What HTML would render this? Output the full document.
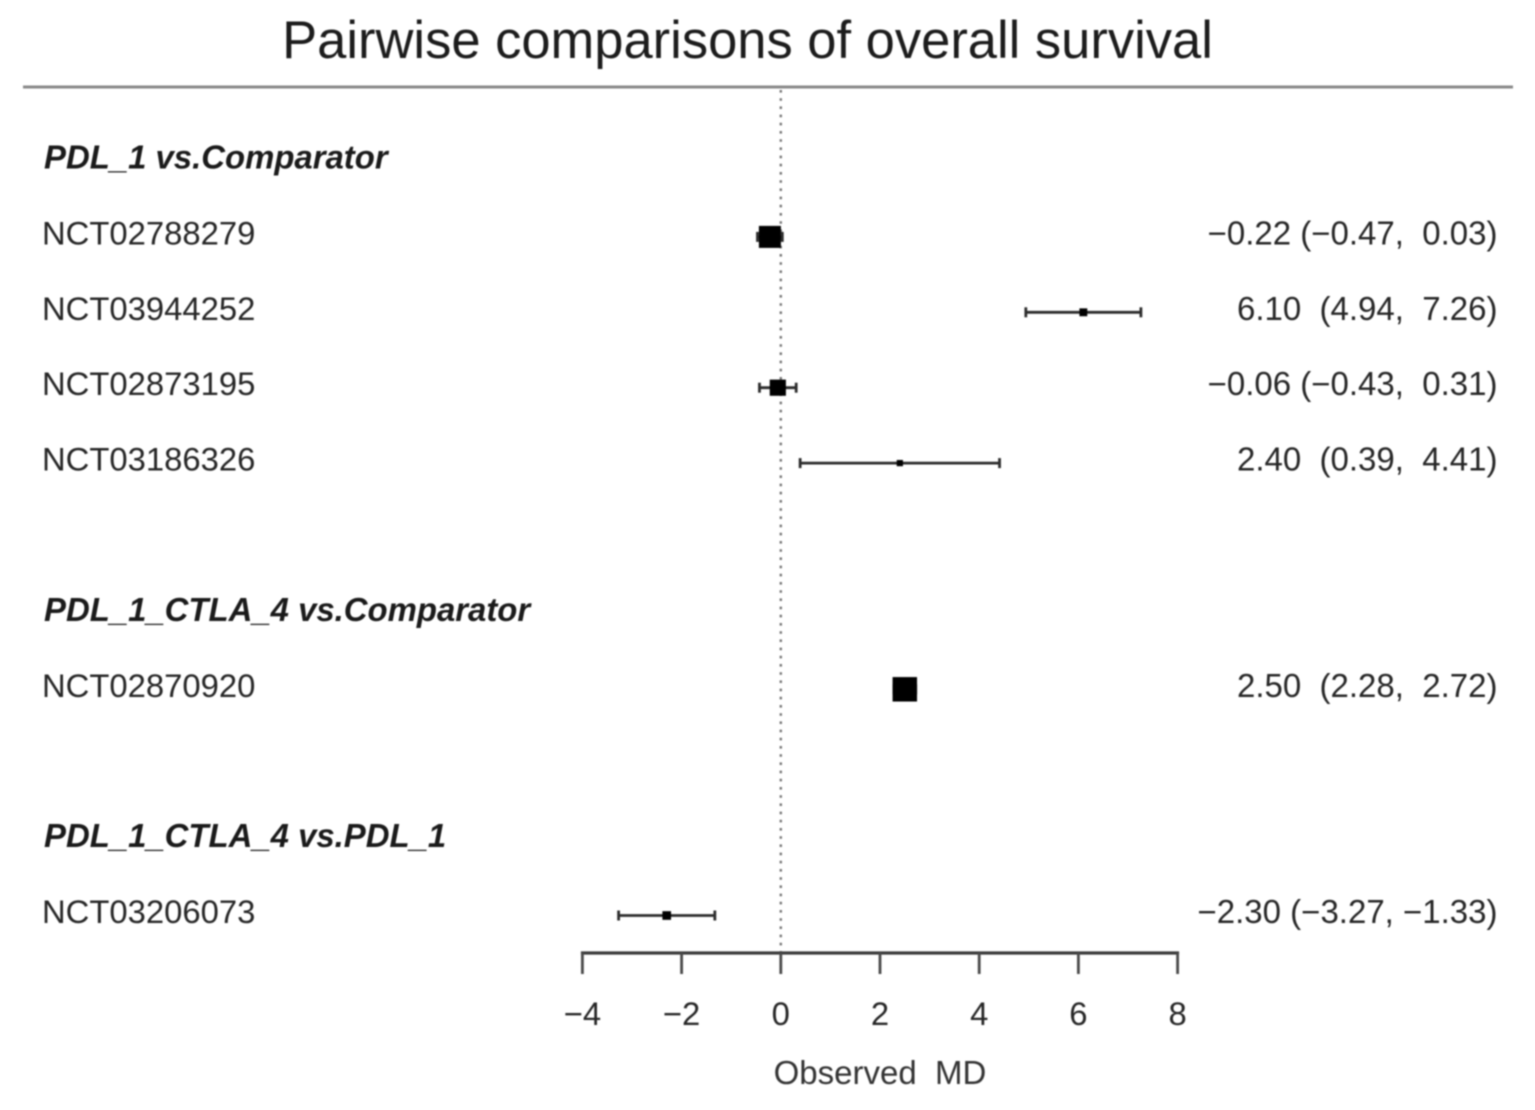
<!DOCTYPE html>
<html>
<head>
<meta charset="utf-8">
<title>Pairwise comparisons of overall survival</title>
<style>
html,body{margin:0;padding:0;background:#fff;width:1535px;height:1110px;overflow:hidden}
svg{display:block;filter:blur(0.8px)}
text{font-family:"Liberation Sans",sans-serif;white-space:pre;fill:#262626}
</style>
</head>
<body>
<svg id="chart" xmlns="http://www.w3.org/2000/svg" width="1535" height="1110" viewBox="0 0 1535 1110">
<rect width="1535" height="1110" fill="#fff"/>
<text x="747.5" y="58" font-size="52.5" text-anchor="middle" style="fill:#1c1c1c">Pairwise comparisons of overall survival</text>
<line x1="23" y1="87" x2="1513" y2="87" stroke="#8a8a8a" stroke-width="3"/>
<text x="880" y="1084" font-size="33" text-anchor="middle" style="fill:#333">Observed  MD</text>
</svg>
<script>
const groupLabels = ["PDL_1 vs.Comparator", "PDL_1_CTLA_4 vs.Comparator", "PDL_1_CTLA_4 vs.PDL_1"];
const groupRows = [0, 6, 9];
const studies = ["NCT02788279", "NCT03944252", "NCT02873195", "NCT03186326", "NCT02870920", "NCT03206073"];
const studyRows = [1, 2, 3, 4, 7, 10];
const means = [-0.22, 6.10, -0.06, 2.40, 2.50, -2.30];
const lowers = [-0.47, 4.94, -0.43, 0.39, 2.28, -3.27];
const uppers = [0.03, 7.26, 0.31, 4.41, 2.72, -1.33];
const xTicks = [-4, -2, 0, 2, 4, 6, 8];

const svg = document.getElementById('chart');
const NS = 'http://www.w3.org/2000/svg';
const xScale = v => 780.8 + v * 49.6;
const yScale = r => 161.5 + r * 75.4;
const sizeOf = (lo, hi) => 4 + 9 / (hi - lo);
const fmt = v => (v < 0 ? '\u2212' : '') + Math.abs(v).toFixed(2);
const tickFmt = v => (v < 0 ? '\u2212' : '') + Math.abs(v);

function make(tag, attrs, content) {
  const el = document.createElementNS(NS, tag);
  for (const k in attrs) el.setAttribute(k, attrs[k]);
  if (content !== undefined) el.textContent = content;
  svg.appendChild(el);
  return el;
}

const refLine = make('line', {x1: xScale(0), y1: 90, x2: xScale(0), y2: 952, stroke: '#777', 'stroke-width': 2.4, 'stroke-dasharray': '2.6 5.6'});



groupLabels.forEach((label, i) => {
  const t = make('text', {x: 44, y: yScale(groupRows[i]) + 7, 'font-size': 32.9, 'font-weight': 'bold', 'font-style': 'italic'}, label);
  
  
  t.style.fill = '#1a1a1a';
});

studies.forEach((name, i) => {
  const y = yScale(studyRows[i]);
  const x0 = xScale(lowers[i]);
  const x1 = xScale(uppers[i]);
  const xm = xScale(means[i]);
  const s = sizeOf(lowers[i], uppers[i]);

  const label = make('text', {x: 42, y: y + 7.5, 'font-size': 32.8}, name);
  
  

  const ci = make('line', {x1: x0, y1: y, x2: x1, y2: y, stroke: '#2c2c2c', 'stroke-width': 2.8});
  
  

  const capL = make('line', {x1: x0, y1: y - 5, x2: x0, y2: y + 5, stroke: '#2c2c2c', 'stroke-width': 2.8});
  
  

  const capR = make('line', {x1: x1, y1: y - 5, x2: x1, y2: y + 5, stroke: '#2c2c2c', 'stroke-width': 2.8});
  
  

  const box = make('rect', {x: xm - s / 2, y: y - s / 2, width: s, height: s, fill: '#000'});
  
  

  const gapA = lowers[i] < 0 ? ' (' : '  (';
  const gapB = uppers[i] < 0 ? ', ' : ',  ';
  const note = make('text', {x: 1497.5, y: y + 7.5, 'font-size': 33, 'text-anchor': 'end'},
    fmt(means[i]) + gapA + fmt(lowers[i]) + gapB + fmt(uppers[i]) + ')');
  
  
});

const axisLine = make('line', {x1: xScale(xTicks[0]) - 1.5, y1: 953, x2: xScale(xTicks[xTicks.length - 1]) + 1.5, y2: 953, stroke: '#3c3c3c', 'stroke-width': 3.2});



xTicks.forEach(v => {
  const tick = make('line', {x1: xScale(v), y1: 953, x2: xScale(v), y2: 974, stroke: '#4a4a4a', 'stroke-width': 2.8});
  
  

  const lab = make('text', {x: xScale(v), y: 1025, 'font-size': 32.8, 'text-anchor': 'middle'}, tickFmt(v));
  
  
});
</script>
</body>
</html>
